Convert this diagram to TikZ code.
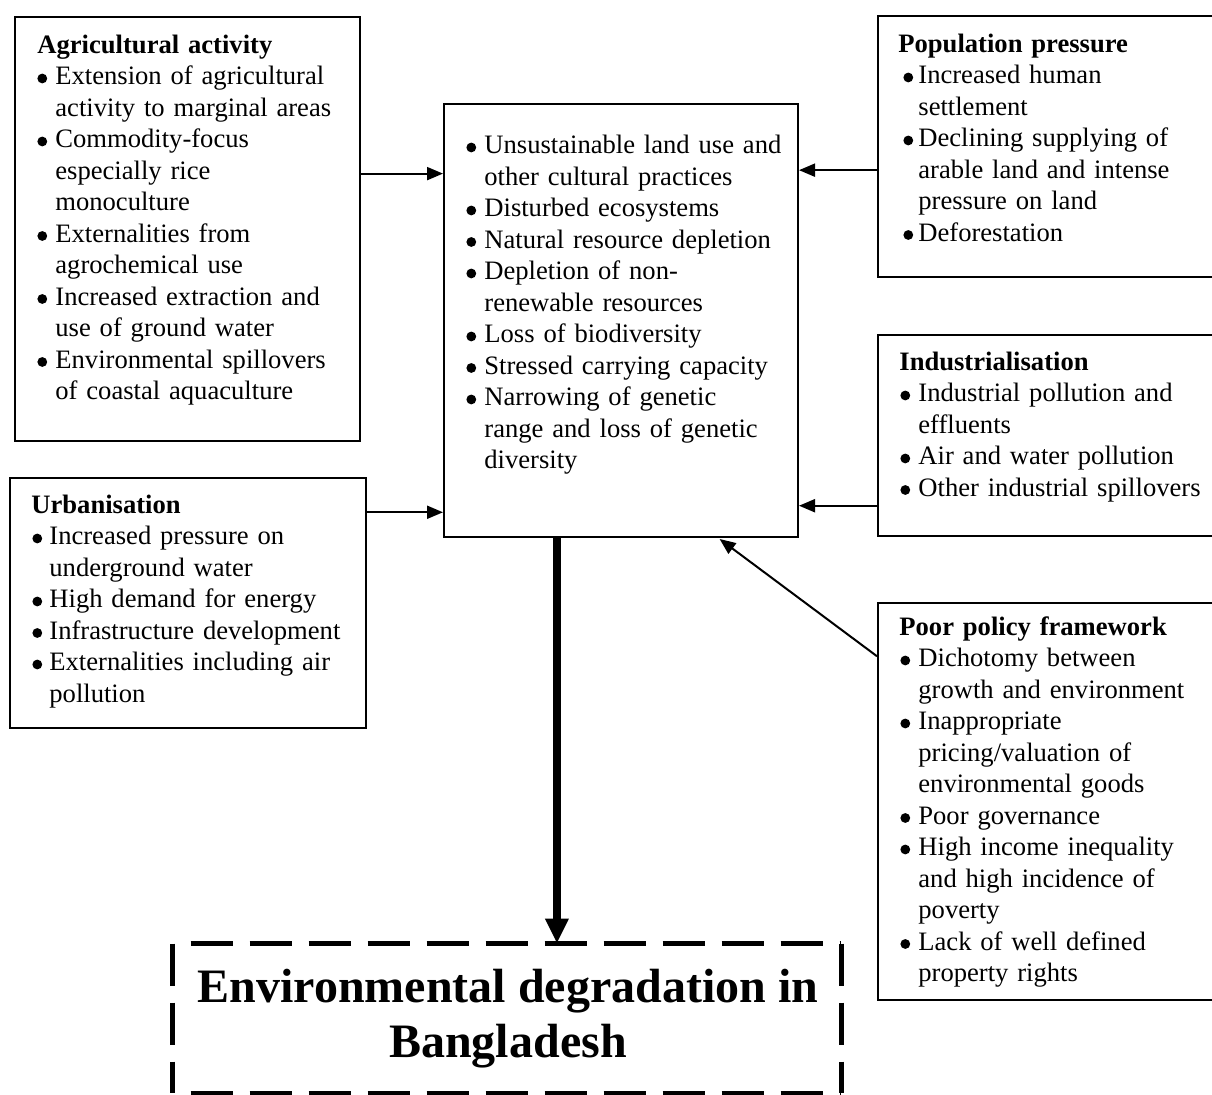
\documentclass[tikz,border=0pt]{standalone}
\usepackage{fontspec}
\setmainfont{Liberation Serif}
\usetikzlibrary{arrows.meta,calc,fit}
\newlength\hindlen
\newlength\bindlen
\newcommand\fs{\rule{0pt}{10pt}}
\newcommand\bdot{\tikz[x=1pt,y=1pt,baseline=-3.2pt]\fill[black] (0,0) circle[radius=2.45pt];}
\newcommand\bul[1]{\par\hangindent=\hindlen\hangafter=1\noindent\makebox[\hindlen][l]{\hspace*{\bindlen}\bdot}#1}
\newcommand\ttl[1]{\noindent\fs\textbf{#1}}
\tikzset{
  boxx/.style={draw, line width=1pt, inner sep=0pt, rectangle},
  txt/.style={anchor=north west, inner sep=0pt, text width=175pt, align=left,
    font=\fontsize{13.3}{15.75}\selectfont},
  arr/.style={line width=1pt, -{Triangle[length=8pt,width=6.5pt]}},
  bigarr/.style={line width=4pt, -{Triangle[length=12.5pt,width=11pt]}},
  dsh/.style={line width=2.5pt, dash pattern=on 21pt off 8.5pt},
}
\begin{document}
\begin{tikzpicture}[x=0.5pt,y=-0.5pt]
\useasboundingbox (0,0) rectangle (1212,1095);
\clip (0,0) rectangle (1212,1095);
\fill[white] (0,0) rectangle (1212,1095);

% boxes
\node[boxx, fit={(15,17) (360,441)}] (agri) {};
\node[boxx, fit={(444,104) (798,537)}] (center) {};
\node[boxx, fit={(878,16) (1225,277)}] (pop) {};
\node[boxx, fit={(878,335) (1225,536)}] (ind) {};
\node[boxx, fit={(10,478) (366,728)}] (urban) {};
\node[boxx, fit={(878,603) (1225,1000)}] (policy) {};
\node[inner sep=0pt, fit={(173,944) (841,1093)}] (goal) {};

% texts
\node[txt] (agriT) at (37,33) {\setlength\hindlen{9pt}\setlength\bindlen{0pt}%
\ttl{Agricultural activity}
\bul{Extension of agricultural\newline activity to marginal areas}
\bul{Commodity-focus\newline especially rice\newline monoculture}
\bul{Externalities from\newline agrochemical use}
\bul{Increased extraction and\newline use of ground water}
\bul{Environmental spillovers\newline of coastal aquaculture}\par};

\node[txt] (centerT) at (466,122) {\setlength\hindlen{9pt}\setlength\bindlen{0pt}%
\bul{\fs Unsustainable land use and\newline other cultural practices}
\bul{Disturbed ecosystems}
\bul{Natural resource depletion}
\bul{Depletion of non-\newline renewable resources}
\bul{Loss of biodiversity}
\bul{Stressed carrying capacity}
\bul{Narrowing of genetic\newline range and loss of genetic\newline diversity}\par};

\node[txt] (popT) at (898,32) {\setlength\hindlen{10pt}\setlength\bindlen{2.5pt}%
\ttl{Population pressure}
\bul{Increased human\newline settlement}
\bul{Declining supplying of\newline arable land and intense\newline pressure on land}
\bul{Deforestation}\par};

\node[txt] (indT) at (899,350) {\setlength\hindlen{9.5pt}\setlength\bindlen{0.5pt}%
\ttl{Industrialisation}
\bul{Industrial pollution and\newline effluents}
\bul{Air and water pollution}
\bul{Other industrial spillovers}\par};

\node[txt] (urbanT) at (31,493) {\setlength\hindlen{9pt}\setlength\bindlen{0.5pt}%
\ttl{Urbanisation}
\bul{Increased pressure on\newline underground water}
\bul{High demand for energy}
\bul{Infrastructure development}
\bul{Externalities including air\newline pollution}\par};

\node[txt] (policyT) at (899,615) {\setlength\hindlen{9.5pt}\setlength\bindlen{0.5pt}%
\ttl{Poor policy framework}
\bul{Dichotomy between\newline growth and environment}
\bul{Inappropriate\newline pricing/valuation of\newline environmental goods}
\bul{Poor governance}
\bul{High income inequality\newline and high incidence of\newline poverty}
\bul{Lack of well defined\newline property rights}\par};

\node[anchor=north, inner sep=0pt, align=center,
  font=\fontsize{24}{27.5}\selectfont\bfseries] (goalT) at (508,964)
  {\rule{0pt}{19pt}Environmental degradation in\\Bangladesh};

% dashed outline of the goal box
\draw[dsh] (goal.north west) -- (goal.south west);
\draw[dsh] ([xshift=9pt]goal.north west) -- (goal.north east);
\draw[dsh] (goal.north east) -- (goal.south east);
\draw[dsh] ([xshift=9pt]goal.south west) -- (goal.south east);

% connectors
\coordinate (pa) at ($(agri.north east)!0.37!(agri.south east)$);
\draw[arr] (pa) -- (pa -| center.west);
\coordinate (pu) at ($(urban.north east)!0.14!(urban.south east)$);
\draw[arr] (pu) -- (pu -| center.west);
\coordinate (pp) at ($(pop.north west)!0.59!(pop.south west)$);
\draw[arr] (pp) -- (pp -| center.east);
\coordinate (pi) at ($(ind.north west)!0.846!(ind.south west)$);
\draw[arr] (pi) -- (pi -| center.east);
\coordinate (pl) at ($(policy.north west)!0.136!(policy.south west)$);
\coordinate (pc) at ($(center.south west)!0.777!(center.south east)$);
\draw[arr] (pl) -- ([yshift=-0.5pt]pc);
\coordinate (pb) at ($(center.south west)!0.32!(center.south east)$);
\draw[bigarr] (pb) -- (pb |- goal.north);
\end{tikzpicture}
\end{document}
